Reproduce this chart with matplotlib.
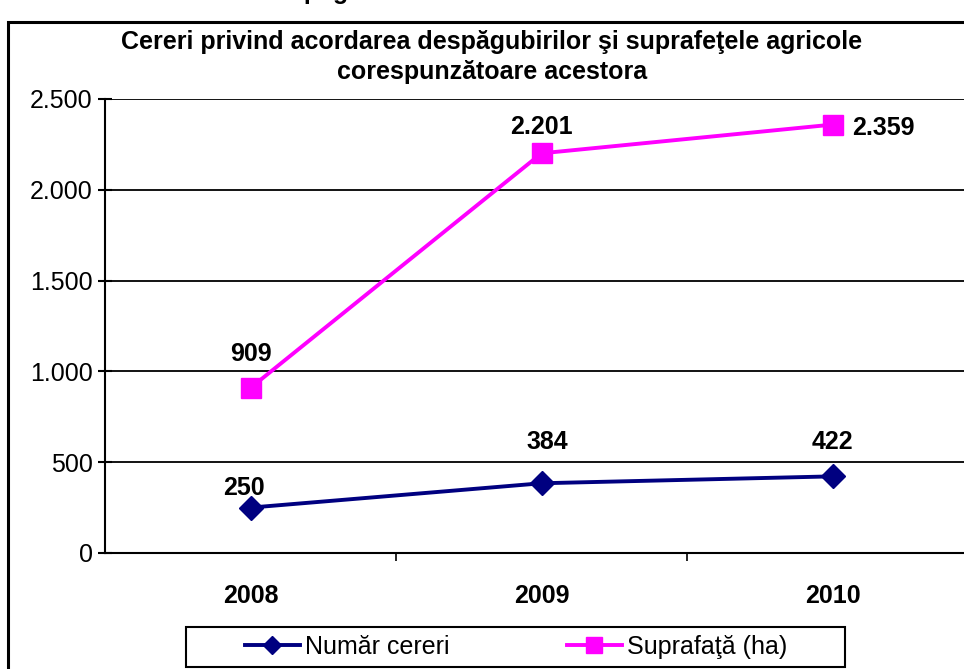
import matplotlib
matplotlib.use("Agg")
import matplotlib.pyplot as plt
from matplotlib.patches import Rectangle
from matplotlib.ticker import FuncFormatter, FixedLocator

plt.rcParams['font.family'] = ['Liberation Sans', 'DejaVu Sans']

years = ['2008', '2009', '2010']
cereri = [250, 384, 422]
suprafata = [909, 2201, 2359]
yticks = [0, 500, 1000, 1500, 2000, 2500]

W, H = 964, 669
fig = plt.figure(figsize=(W / 100, H / 100), dpi=100)

# outer frame (partially clipped by the figure edges)
fig.patches.append(Rectangle((8 / W, -0.1), 1.2, 1 - 22 / H + 0.1, transform=fig.transFigure,
                             fill=False, edgecolor='black', linewidth=2.2))
# text above the frame, almost entirely clipped by the top edge (only descenders show)
fig.text(330 / W, 1 + 1 / H, 'Despăgubiri', ha='center', va='baseline', fontsize=18,
         fontweight='bold')

ax = fig.add_axes([105 / W, 1 - 553 / H, 873 / W, 454 / H])
x = list(range(len(years)))

ax.plot(x, cereri, color='#000080', marker='D', markersize=12, linewidth=2.8,
        label='Număr cereri', clip_on=False, zorder=3)
ax.plot(x, suprafata, color='#FF00FF', marker='s', markersize=15, linewidth=2.8,
        label='Suprafaţă (ha)', clip_on=False, zorder=3)

ax.set_xlim(-0.5, 2.5)
ax.set_ylim(0, 2500)
ax.set_yticks(yticks)
ax.yaxis.set_major_formatter(FuncFormatter(lambda v, p: f"{int(v):,}".replace(',', '.')))
ax.set_xticks(x)
ax.set_xticklabels(years, fontweight='bold', fontsize=18)
ax.xaxis.set_minor_locator(FixedLocator([0.5, 1.5]))
ax.tick_params(axis='x', which='major', length=0, pad=22)
ax.tick_params(axis='x', which='minor', length=6, width=1.2, direction='out')
ax.tick_params(axis='y', length=10, width=1.5, direction='inout', labelsize=18, pad=4)

ax.grid(axis='y', color='black', linewidth=1.3)
ax.set_axisbelow(True)
for s in ['top', 'right']:
    ax.spines[s].set_visible(False)
for s in ['left', 'bottom']:
    ax.spines[s].set_linewidth(1.5)

# data labels
lab_kw = dict(fontsize=18, fontweight='bold', ha='center', va='center')
offs_c = [(-7, 20), (6, 41), (0, 34)]
for xi, v, (dx, dy) in zip(x, cereri, offs_c):
    ax.annotate(f"{v:,}".replace(',', '.'), (xi, v), xytext=(dx, dy), textcoords='offset pixels', **lab_kw)
offs_s = [(0, 34), (0, 26), (51, -3)]
for xi, v, (dx, dy) in zip(x, suprafata, offs_s):
    ax.annotate(f"{v:,}".replace(',', '.'), (xi, v), xytext=(dx, dy), textcoords='offset pixels', **lab_kw)

fig.text(492 / W, 1 - 42 / H, 'Cereri privind acordarea despăgubirilor şi suprafeţele agricole',
         ha='center', va='center', fontsize=18, fontweight='bold')
fig.text(492 / W, 1 - 72 / H, 'corespunzătoare acestora',
         ha='center', va='center', fontsize=18, fontweight='bold')

# legend box drawn separately so its padding matches the reference
fig.patches.append(Rectangle((186 / W, 1 - 667 / H), 659 / W, 40 / H, transform=fig.transFigure,
                             fill=False, edgecolor='black', linewidth=1.5))
leg = fig.legend(loc='center', bbox_to_anchor=(516 / W, 1 - 647 / H), ncol=2, fontsize=18,
                 frameon=False, handlelength=2.2, handletextpad=0.2, columnspacing=4.7,
                 borderpad=0, markerscale=0.8, borderaxespad=0)

fig.savefig('out.png', dpi=100)
